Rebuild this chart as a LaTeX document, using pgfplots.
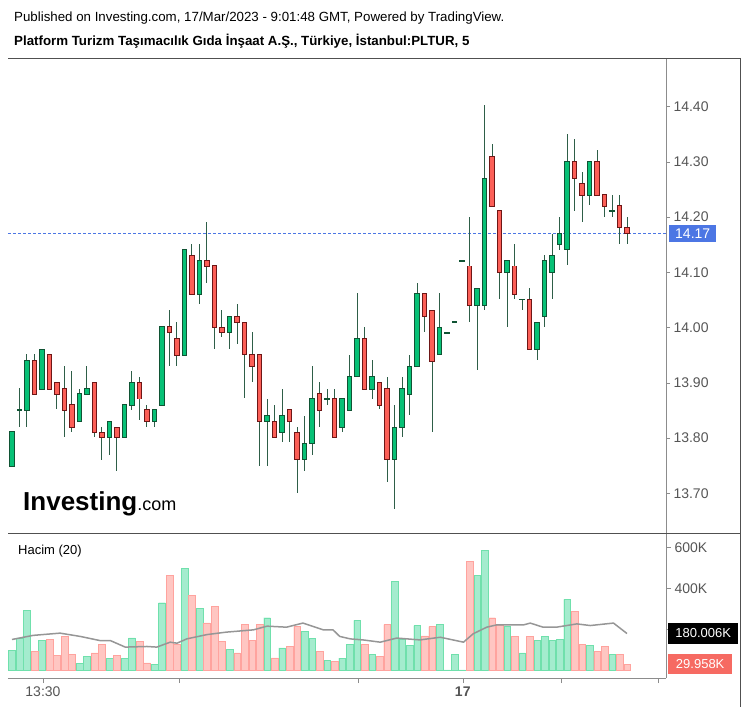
\documentclass[border=0pt]{standalone}
\usepackage{pgfplots}
\pgfplotsset{compat=1.18}
\usepackage{pgfplotstable}
\usepackage{fontspec}
\setmainfont{Liberation Sans}

\definecolor{upfill}{RGB}{7,193,118}
\definecolor{upline}{RGB}{16,84,52}
\definecolor{dnfill}{RGB}{252,95,87}
\definecolor{dnline}{RGB}{110,22,22}
\definecolor{wick}{RGB}{46,94,72}
\definecolor{volg}{RGB}{164,236,206}
\definecolor{volgb}{RGB}{112,224,172}
\definecolor{volr}{RGB}{255,198,194}
\definecolor{volrb}{RGB}{255,163,158}
\definecolor{magray}{RGB}{150,150,150}
\definecolor{labgray}{RGB}{85,85,85}
\definecolor{axgray}{RGB}{140,140,140}
\definecolor{frgray}{RGB}{80,80,80}
\definecolor{pricebl}{RGB}{76,118,228}
\definecolor{boxred}{RGB}{246,106,98}

% i = bar index (5 min), O H L C, V = volume in thousands
\pgfplotstableread{
i  O      H      L      C      V
0  13.749 13.811 13.749 13.811 97
1  13.851 13.891 13.820 13.851 159
2  13.851 13.952 13.820 13.940 292
4  13.889 13.960 13.889 13.960 146
9  13.830 13.889 13.830 13.880 36
10 13.880 13.931 13.880 13.889 68
13 13.801 13.830 13.770 13.830 60
15 13.801 13.860 13.801 13.860 60
16 13.860 13.921 13.851 13.900 159
19 13.830 13.851 13.820 13.851 29
20 13.860 14.001 13.860 14.001 330
23 13.950 14.141 13.950 14.141 499
25 14.061 14.151 14.043 14.121 304
29 13.991 14.020 13.961 14.020 104
34 13.830 13.871 13.750 13.840 257
36 13.810 13.889 13.792 13.840 110
39 13.761 13.840 13.741 13.790 190
40 13.790 13.931 13.770 13.871 158
42 13.871 13.889 13.860 13.871 49
44 13.819 13.871 13.811 13.871 60
45 13.851 13.951 13.851 13.911 127
46 13.911 14.062 13.911 13.980 244
48 13.889 13.941 13.871 13.911 78
51 13.761 13.860 13.672 13.819 434
52 13.819 13.911 13.802 13.889 153
53 13.880 13.951 13.841 13.930 122
54 13.930 14.081 13.930 14.062 219
57 13.951 14.062 13.951 14.000 224
58 13.991 13.991 13.991 13.991 3
59 14.010 14.010 14.010 14.010 78
60 14.121 14.121 14.121 14.121 3
62 14.040 14.071 13.923 14.071 463
63 14.040 14.403 14.031 14.270 585
66 14.100 14.121 14.001 14.121 214
68 14.051 14.051 14.031 14.051 86
70 13.960 14.009 13.941 14.009 146
71 14.020 14.131 14.001 14.121 166
72 14.100 14.170 14.051 14.130 146
73 14.150 14.200 14.141 14.170 153
74 14.141 14.351 14.113 14.301 346
77 14.240 14.301 14.222 14.301 122
80 14.211 14.240 14.200 14.211 78
}\up

\pgfplotstableread{
i  O      H      L      C      V
3  13.940 13.952 13.880 13.880 93
5  13.951 13.951 13.889 13.889 153
6  13.900 13.900 13.852 13.880 73
7  13.889 13.931 13.802 13.851 166
8  13.860 13.921 13.811 13.819 78
11 13.900 13.900 13.802 13.810 86
12 13.810 13.820 13.761 13.801 127
14 13.819 13.819 13.741 13.801 73
17 13.900 13.911 13.832 13.871 141
18 13.851 13.860 13.820 13.830 37
21 14.001 14.031 13.931 13.991 463
22 13.980 14.010 13.931 13.950 127
24 14.130 14.151 14.061 14.061 365
26 14.121 14.191 14.081 14.111 232
27 14.112 14.112 13.961 14.000 312
28 14.000 14.031 13.982 13.991 141
30 14.020 14.042 13.971 14.009 86
31 14.009 14.009 13.873 13.951 224
32 13.951 13.992 13.902 13.930 146
33 13.951 13.951 13.750 13.830 224
35 13.830 13.860 13.801 13.801 62
37 13.851 13.851 13.792 13.830 117
38 13.810 13.820 13.701 13.761 214
41 13.880 13.902 13.820 13.851 93
43 13.871 13.889 13.801 13.801 44
47 13.980 14.001 13.889 13.889 127
49 13.900 13.900 13.852 13.860 68
50 13.889 13.911 13.720 13.761 224
55 14.062 14.062 13.992 14.020 169
56 14.030 14.030 13.811 13.939 214
61 14.111 14.200 14.010 14.040 531
64 14.310 14.332 14.220 14.220 257
65 14.211 14.211 14.051 14.100 222
67 14.111 14.151 14.051 14.061 166
69 14.051 14.071 13.960 13.960 166
75 14.301 14.341 14.211 14.270 287
76 14.261 14.282 14.191 14.240 127
78 14.301 14.322 14.240 14.240 93
79 14.240 14.240 14.200 14.220 117
81 14.220 14.240 14.151 14.181 78
82 14.181 14.200 14.151 14.170 29.958
}\down

\pgfplotsset{
  wicks/.style={draw=none, mark=none, forget plot,
    error bars/.cd, y dir=both, y explicit, error mark=none,
    error bar style={draw=wick, line width=1pt}},
  body/.style 2 args={draw=none, mark=none, forget plot,
    error bars/.cd, y dir=both, y explicit, error mark=none,
    error bar style={draw=#1, line width=#2}},
}

\begin{document}
\begin{tikzpicture}
\useasboundingbox (0pt,0pt) rectangle (747pt,707pt);

\begin{scope}[x=1pt, y=1pt]
\node[anchor=west, inner sep=0pt, font=\fontsize{13.3}{15}\selectfont] at (14,689)
  {Published on Investing.com, 17/Mar/2023 - 9:01:48 GMT, Powered by TradingView.};
\node[anchor=west, inner sep=0pt, font=\fontsize{13.3}{15}\selectfont\bfseries] at (14,666)
  {Platform Turizm Taşımacılık Gıda İnşaat A.Ş., Türkiye, İstanbul:PLTUR, 5};
\end{scope}

% price panel
\begin{axis}[
  at={(8pt,174pt)}, anchor=south west, scale only axis,
  width=658pt, height=475pt,
  xmin=-0.533, xmax=87.2, ymin=13.628, ymax=14.488,
  axis x line=none, axis y line*=right,
  y axis line style={draw=axgray},
  ytick={13.7,13.8,13.9,14.0,14.1,14.2,14.3,14.4},
  scaled y ticks=false,
  yticklabel style={font=\fontsize{14}{16}\selectfont, text=labgray,
    /pgf/number format/.cd, fixed, fixed zerofill, precision=2, assume math mode=true},
  tick style={draw=axgray}, major tick length=4pt, tick align=outside,
]
\addplot[pricebl, densely dashed, line width=0.8pt, forget plot] coordinates {(-0.533,14.17) (87.2,14.17)};
\addplot[wicks] table[x=i, y expr=(\thisrow{H}+\thisrow{L})/2, y error expr=(\thisrow{H}-\thisrow{L})/2] {\up};
\addplot[wicks] table[x=i, y expr=(\thisrow{H}+\thisrow{L})/2, y error expr=(\thisrow{H}-\thisrow{L})/2] {\down};
\addplot[body={upline}{5.6pt}] table[x=i, y expr=(\thisrow{O}+\thisrow{C})/2, y error expr={abs(\thisrow{C}-\thisrow{O})/2+0.0013}] {\up};
\addplot[body={upfill}{3.6pt}] table[x=i, y expr=(\thisrow{O}+\thisrow{C})/2, y error expr={max(abs(\thisrow{C}-\thisrow{O})/2-0.0005,0)}] {\up};
\addplot[body={dnline}{5.6pt}] table[x=i, y expr=(\thisrow{O}+\thisrow{C})/2, y error expr={abs(\thisrow{C}-\thisrow{O})/2+0.0013}] {\down};
\addplot[body={dnfill}{3.6pt}] table[x=i, y expr=(\thisrow{O}+\thisrow{C})/2, y error expr={max(abs(\thisrow{C}-\thisrow{O})/2-0.0005,0)}] {\down};
\end{axis}

% volume panel
\begin{axis}[
  at={(8pt,29pt)}, anchor=south west, scale only axis,
  width=658pt, height=145pt,
  xmin=-0.533, xmax=87.2, ymin=-36.5, ymax=669.7,
  axis x line*=bottom, axis y line*=right,
  axis line style={draw=axgray},
  ytick={200,400,600},
  yticklabel={\pgfmathprintnumber{\tick}K},
  yticklabel style={font=\fontsize{14}{16}\selectfont, text=labgray,
    /pgf/number format/assume math mode=true},
  xtick={4.13,22.3,46.2,60.1,73.2,86.2},
  xticklabels={13:30,,,\textbf{17},,},
  xticklabel style={font=\fontsize{14}{16}\selectfont, text=labgray},
  tick style={draw=axgray}, major tick length=5pt, tick align=outside,
]
\addplot[ybar, bar width=6.6pt, bar shift=0pt, fill=volg, draw=volgb] table[x=i, y=V] {\up};
\addplot[ybar, bar width=6.6pt, bar shift=0pt, fill=volr, draw=volrb] table[x=i, y=V] {\down};
\addplot[magray, line width=1.5pt, mark=none] coordinates {
(0,151) (2.8,171) (6.4,182) (9.1,166) (11.7,146) (13.1,146) (15.1,114) (18,117)
(19.3,114) (21.1,138) (22,133) (23.3,154) (26,175) (28.6,187) (32.2,198) (34,216)
(36.6,211) (38.8,231) (41.5,198) (42.8,198) (43.7,166) (45.1,154) (46.8,149)
(49.1,138) (51.3,158) (54.4,149) (57.1,162) (60.2,138) (61.5,179) (63.3,211)
(64.6,222) (68.2,222) (69.1,231) (70.8,211) (72.6,211) (75.3,227) (77.1,219)
(80.2,231) (82,180)};
\end{axis}

\begin{scope}[x=1pt, y=1pt]
% frame
\draw[frgray, line width=0.8pt] (8,649) -- (740,649);
\draw[frgray, line width=0.8pt] (740,649) -- (740,0);
\draw[frgray, line width=0.8pt] (8,174) -- (740,174);

\node[anchor=west, inner sep=0pt, font=\fontsize{13}{15}\selectfont] at (18,156) {Hacim (20)};

% value boxes
\node[fill=pricebl, text=white, anchor=west, minimum height=17pt, minimum width=47pt,
  inner sep=1pt, font=\fontsize{14}{16}\selectfont] at (669,473.6) {14.17};
\node[fill=black, text=white, anchor=west, minimum height=21pt, minimum width=70pt,
  inner sep=1pt, font=\fontsize{13}{15}\selectfont] at (668,73.5) {180.006K};
\node[fill=boxred, text=white, anchor=west, minimum height=20pt, minimum width=64pt,
  inner sep=1pt, font=\fontsize{13}{15}\selectfont] at (668,42.6) {29.958K};

% logo
\node[anchor=base west, inner sep=0pt] at (23,196)
  {\fontsize{26}{28}\selectfont\bfseries Investing\fontsize{18}{20}\selectfont\mdseries .com};
\end{scope}
\end{tikzpicture}
\end{document}
